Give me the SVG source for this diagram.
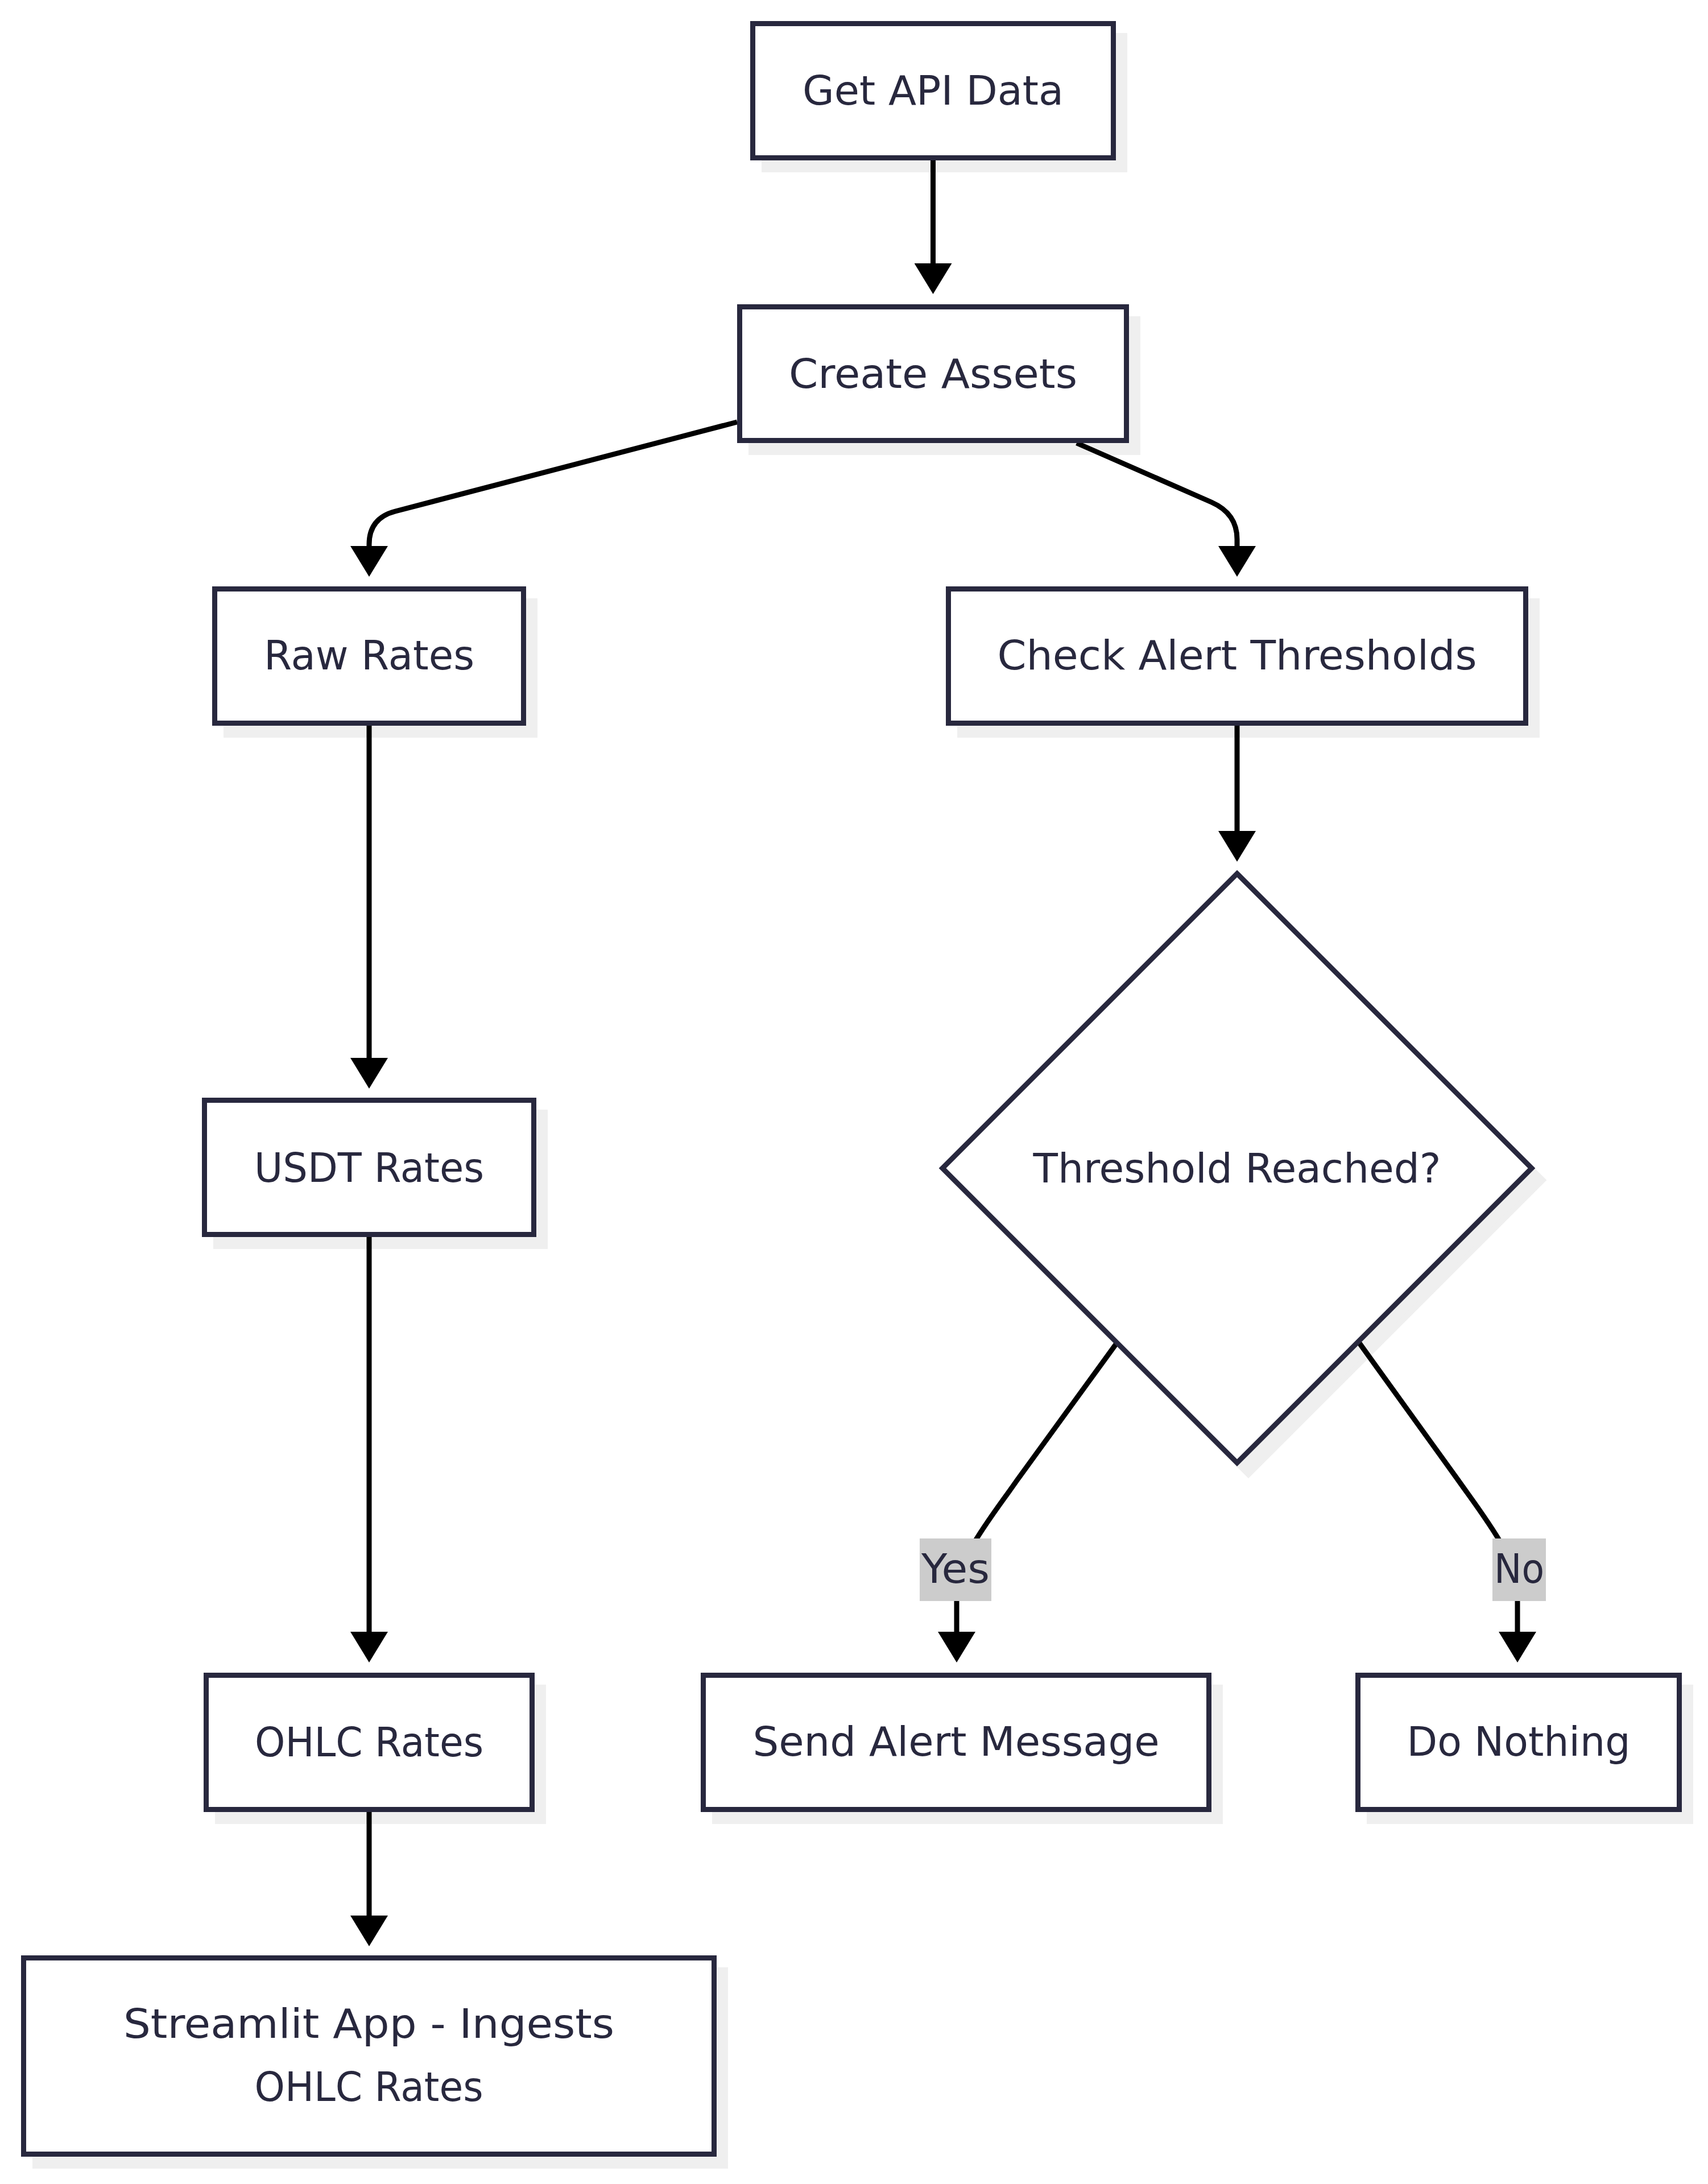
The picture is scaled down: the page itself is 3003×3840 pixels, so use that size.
<svg xmlns="http://www.w3.org/2000/svg" width="3003" height="3840" viewBox="0 0 3003 3840">
<style>
.shadow{fill:#efefef;stroke:#efefef;stroke-width:9}
.box{fill:#ffffff;stroke:#28283e;stroke-width:9}
.txt{font-family:"DejaVu Sans","Liberation Sans",sans-serif;font-size:72px;fill:#28283e;text-anchor:middle}
.edge{fill:none;stroke:#000000;stroke-width:9}
.lblbg{fill:#cccccc}
</style>
<defs>
<marker id="arrow" markerUnits="userSpaceOnUse" markerWidth="54" markerHeight="66" viewBox="0 0 54 66" refX="10" refY="33" orient="auto">
<path d="M0,0 L54,33 L0,66 Z" fill="#000000"/>
</marker>
</defs>
<rect width="3003" height="3840" fill="#ffffff"/>

<g id="shadows">
<rect class="shadow" x="1343.5" y="62.5" width="634" height="236"/>
<rect class="shadow" x="1320.5" y="560.5" width="680" height="235"/>
<rect class="shadow" x="397.5" y="1056.5" width="543" height="236"/>
<rect class="shadow" x="1687.5" y="1056.5" width="1015" height="236"/>
<rect class="shadow" x="379.5" y="1955.5" width="579" height="236"/>
<polygon class="shadow" points="2195,1557 2713,2075 2195,2593 1677,2075"/>
<rect class="shadow" x="382.5" y="2966.5" width="573" height="236"/>
<rect class="shadow" x="1256.5" y="2966.5" width="889" height="236"/>
<rect class="shadow" x="2407.5" y="2966.5" width="565" height="236"/>
<rect class="shadow" x="61.5" y="3463.5" width="1214" height="345"/>
</g>

<g id="connectors">
<path class="edge" marker-end="url(#arrow)" d="M1640.5,282 L1640.5,473"/>
<path class="edge" marker-end="url(#arrow)" d="M1296,742 L695,899 Q649,911 649,957 L649,970"/>
<path class="edge" marker-end="url(#arrow)" d="M1893,779 L2130,883 Q2175,903 2175,948 L2175,970"/>
<path class="edge" marker-end="url(#arrow)" d="M649,1276 L649,1870"/>
<path class="edge" marker-end="url(#arrow)" d="M649,2175 L649,2879"/>
<path class="edge" marker-end="url(#arrow)" d="M2175,1276 L2175,1471"/>
<path class="edge" marker-end="url(#arrow)" d="M649,3186 L649,3378"/>
<path class="edge" marker-end="url(#arrow)" d="M1963,2362 L1790,2600 C1745,2665 1682,2740 1682,2800 L1682,2879"/>
<path class="edge" marker-end="url(#arrow)" d="M2389,2360 L2562,2600 C2610,2668 2668,2740 2668,2800 L2668,2879"/>
</g>

<g id="edge-labels">
<g id="label-yes">
<rect class="lblbg" x="1617" y="2705" width="126" height="110"/>
<text class="txt" x="1680" y="2783" textLength="120" lengthAdjust="spacingAndGlyphs">Yes</text>
</g>
<g id="label-no">
<rect class="lblbg" x="2624" y="2705" width="94" height="110"/>
<text class="txt" x="2671" y="2783" textLength="88" lengthAdjust="spacingAndGlyphs">No</text>
</g>
</g>

<g id="node-get-api-data">
<rect class="box" x="1323.5" y="41.5" width="634" height="236"/>
<text class="txt" x="1640.5" y="184" textLength="459" lengthAdjust="spacingAndGlyphs">Get API Data</text>
</g>

<g id="node-create-assets">
<rect class="box" x="1300.5" y="539.5" width="680" height="235"/>
<text class="txt" x="1640.5" y="682" textLength="507" lengthAdjust="spacingAndGlyphs">Create Assets</text>
</g>

<g id="node-raw-rates">
<rect class="box" x="377.5" y="1035.5" width="543" height="236"/>
<text class="txt" x="649" y="1177" textLength="370" lengthAdjust="spacingAndGlyphs">Raw Rates</text>
</g>

<g id="node-check-alert-thresholds">
<rect class="box" x="1667.5" y="1035.5" width="1015" height="236"/>
<text class="txt" x="2175" y="1177" textLength="843" lengthAdjust="spacingAndGlyphs">Check Alert Thresholds</text>
</g>

<g id="node-usdt-rates">
<rect class="box" x="359.5" y="1934.5" width="579" height="236"/>
<text class="txt" x="649" y="2078" textLength="404" lengthAdjust="spacingAndGlyphs">USDT Rates</text>
</g>

<g id="node-threshold-reached">
<polygon class="box" points="2175,1536 2693,2054 2175,2572 1657,2054"/>
<text class="txt" x="2175" y="2079" textLength="717" lengthAdjust="spacingAndGlyphs">Threshold Reached?</text>
</g>

<g id="node-ohlc-rates">
<rect class="box" x="362.5" y="2945.5" width="573" height="236"/>
<text class="txt" x="649" y="3088" textLength="402" lengthAdjust="spacingAndGlyphs">OHLC Rates</text>
</g>

<g id="node-send-alert-message">
<rect class="box" x="1236.5" y="2945.5" width="889" height="236"/>
<text class="txt" x="1681" y="3087" textLength="715" lengthAdjust="spacingAndGlyphs">Send Alert Message</text>
</g>

<g id="node-do-nothing">
<rect class="box" x="2387.5" y="2945.5" width="565" height="236"/>
<text class="txt" x="2670" y="3087" textLength="393" lengthAdjust="spacingAndGlyphs">Do Nothing</text>
</g>

<g id="node-streamlit-app">
<rect class="box" x="41.5" y="3442.5" width="1214" height="345"/>
<text class="txt" x="648.5" y="3583" textLength="863" lengthAdjust="spacingAndGlyphs">Streamlit App - Ingests</text>
<text class="txt" x="648.5" y="3694" textLength="402" lengthAdjust="spacingAndGlyphs">OHLC Rates</text>
</g>
</svg>
